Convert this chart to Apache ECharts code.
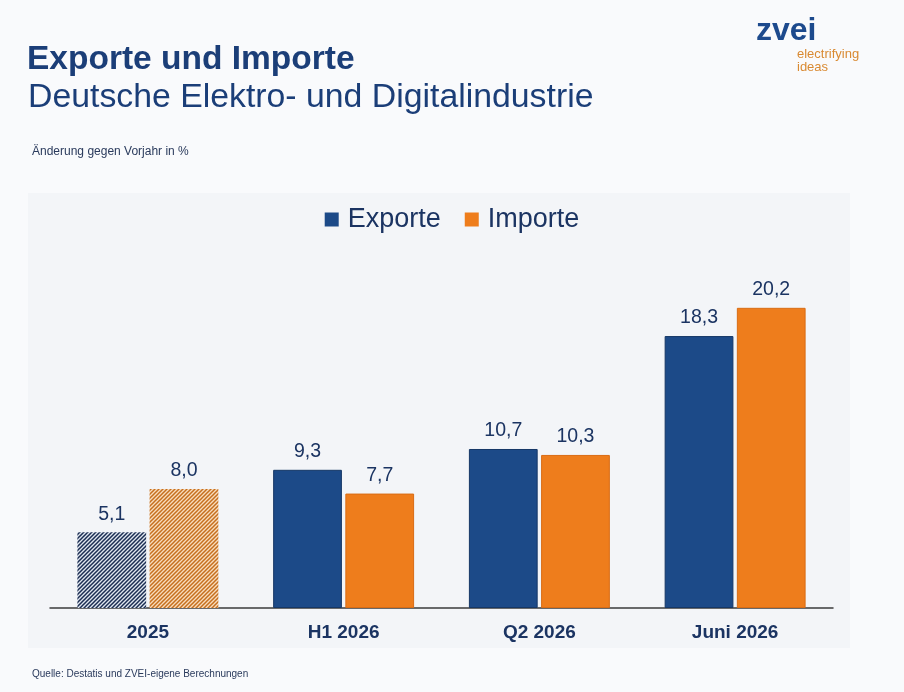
<!DOCTYPE html>
<html><head><meta charset="utf-8">
<script src="https://cdn.jsdelivr.net/npm/echarts@6/dist/echarts.min.js"></script>
<style>html,body{margin:0;padding:0;background:#f9fafc;}#c{width:904px;height:692px;}</style>
</head><body><div id="c"></div>
<script>
const categories = ['2025', 'H1 2026', 'Q2 2026', 'Juni 2026'];
const exporte = [5.1, 9.3, 10.7, 18.3];
const importe = [8.0, 7.7, 10.3, 20.2];
const hatchedIndex = 0;

const FONT = '"Liberation Sans", Arial, sans-serif';
const NAVY = '#1b3462';
const BLUE = '#1c4a88';
const ORANGE = '#ee7d1c';

function hatch(bg, fg) {
  const s = 4;
  const cv = document.createElement('canvas');
  cv.width = s; cv.height = s;
  const g = cv.getContext('2d');
  g.fillStyle = bg; g.fillRect(0, 0, s, s);
  g.strokeStyle = fg; g.lineWidth = 1.5;
  [[-s, 0], [0, 0], [s, 0]].forEach(([dx]) => {
    g.beginPath();
    g.moveTo(dx - 1, s + 1);
    g.lineTo(dx + s + 1, -1);
    g.stroke();
  });
  return { image: cv, repeat: 'repeat' };
}

const fmt = v => v.toFixed(1).replace('.', ',');

function build(values, bg, fg) {
  return values.map((v, i) => i === hatchedIndex
    ? { value: v, itemStyle: { color: hatch(bg, fg), borderWidth: 0 } }
    : { value: v });
}

const chart = echarts.init(document.getElementById('c'), null, { renderer: 'canvas' });
chart.setOption({
  backgroundColor: '#f9fafc',
  animation: false,
  textStyle: { fontFamily: FONT },
  graphic: [
    { type: 'rect', z: -10, shape: { x: 28, y: 193, width: 822, height: 455 }, style: { fill: '#f3f5f8' } },
    { type: 'text', left: 27, top: 43, style: { text: 'Exporte und Importe', font: 'bold 33.5px ' + FONT, fill: '#1b3e78' } },
    { type: 'text', left: 28, top: 81, style: { text: 'Deutsche Elektro- und Digitalindustrie', font: '33.8px ' + FONT, fill: '#1b3e78' } },
    { type: 'text', left: 32, top: 146, style: { text: 'Änderung gegen Vorjahr in %', font: '12px ' + FONT, fill: '#2a3a5c' } },
    { type: 'text', left: 32, top: 669, style: { text: 'Quelle: Destatis und ZVEI-eigene Berechnungen', font: '10px ' + FONT, fill: '#2a3a5c' } },
    { type: 'text', left: 756, top: 15, style: { text: 'zvei', font: 'bold 32px ' + FONT, fill: '#1d4a8d' } },
    { type: 'text', left: 797, top: 48, style: { text: 'electrifying', font: '13px ' + FONT, fill: '#d98a32' } },
    { type: 'text', left: 797, top: 61, style: { text: 'ideas', font: '13px ' + FONT, fill: '#d98a32' } }
  ],
  legend: {
    top: 201,
    left: 'center',
    itemWidth: 14,
    itemHeight: 14,
    itemGap: 24,
    icon: 'rect',
    itemStyle: { borderWidth: 0 },
    textStyle: { fontSize: 27, color: NAVY, fontFamily: FONT, padding: [0, 0, 0, 4] },
    data: ['Exporte', 'Importe']
  },
  grid: { left: 50, right: 71, top: 236.5, bottom: 84, containLabel: false },
  xAxis: {
    type: 'category',
    data: categories,
    axisLine: { lineStyle: { color: '#3b3b3b', width: 1.5 } },
    axisTick: { show: false },
    axisLabel: { fontSize: 19, fontWeight: 'bold', color: NAVY, margin: 15, fontFamily: FONT }
  },
  yAxis: { type: 'value', min: 0, max: 25, show: false, splitLine: { show: false } },
  series: [
    {
      name: 'Exporte', type: 'bar',
      data: build(exporte, '#dfe6ef', '#1b2d52'),
      itemStyle: { color: BLUE, borderColor: '#153766', borderWidth: 1 },
      barGap: '5%', barCategoryGap: '28%',
      label: { show: true, position: 'top', distance: 8, fontSize: 19.5, color: NAVY, fontFamily: FONT, formatter: p => fmt(p.value) }
    },
    {
      name: 'Importe', type: 'bar',
      data: build(importe, '#f8dcbc', '#c66f1e'),
      itemStyle: { color: ORANGE, borderColor: '#d96c14', borderWidth: 1 },
      barGap: '5%', barCategoryGap: '28%',
      label: { show: true, position: 'top', distance: 8, fontSize: 19.5, color: NAVY, fontFamily: FONT, formatter: p => fmt(p.value) }
    }
  ]
});
</script>
</body></html>
